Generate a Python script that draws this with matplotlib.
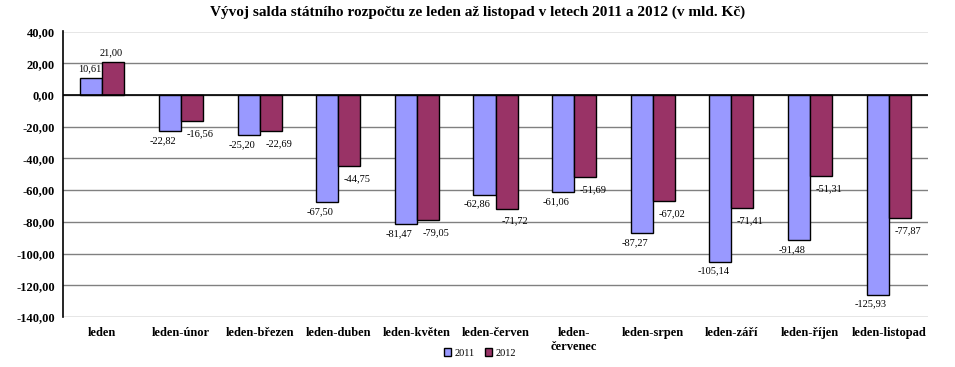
import matplotlib
matplotlib.use("Agg")
import matplotlib.pyplot as plt
from matplotlib.ticker import FuncFormatter
import numpy as np

categories = ["leden", "leden-únor", "leden-březen", "leden-duben", "leden-květen",
              "leden-červen", "leden-\nčervenec", "leden-srpen", "leden-září",
              "leden-říjen", "leden-listopad"]
values_2011 = [10.61, -22.82, -25.20, -67.50, -81.47, -62.86, -61.06, -87.27, -105.14, -91.48, -125.93]
values_2012 = [21.00, -16.56, -22.69, -44.75, -79.05, -71.72, -51.69, -67.02, -71.41, -51.31, -77.87]
series_labels = ["2011", "2012"]
title = "Vývoj salda státního rozpočtu ze leden až listopad v letech 2011 a 2012 (v mld. Kč)"

plt.rcParams['font.family'] = ['Liberation Serif', 'DejaVu Serif']

fig = plt.figure(figsize=(9.55, 3.67), dpi=100)
ax = fig.add_axes([63/955, 1 - 317/367, (928-63)/955, (317-31.5)/367])

x = np.arange(len(categories))
w = 0.28
c1, c2 = "#9999FF", "#993366"
b1 = ax.bar(x - w/2, values_2011, w, color=c1, edgecolor="black", linewidth=1, label=series_labels[0], zorder=3)
b2 = ax.bar(x + w/2, values_2012, w, color=c2, edgecolor="black", linewidth=1, label=series_labels[1], zorder=3)

def fmt(v):
    return f"{v:.2f}".replace(".", ",")

# label offsets (pixels): (dx, dy_pos, dy_neg)
offsets = {0: (-7, 5, -5), 1: (8, 4, -8)}
for si, (bars, vals) in enumerate(((b1, values_2011), (b2, values_2012))):
    dx, dyp, dyn = offsets[si]
    for b, v in zip(bars, vals):
        cx = b.get_x() + b.get_width()/2
        if v >= 0:
            ax.annotate(fmt(v), (cx, v), xytext=(-2, dyp), textcoords="offset pixels",
                        ha="center", va="bottom", fontsize=7.5)
        else:
            ax.annotate(fmt(v), (cx, v), xytext=(dx, dyn), textcoords="offset pixels",
                        ha="center", va="top", fontsize=7.5)

ax.set_xlim(-0.5, len(categories) - 0.5)
ax.set_ylim(-140, 40)
ax.set_yticks(np.arange(-140, 41, 20))
ax.yaxis.set_major_formatter(FuncFormatter(lambda v, p: fmt(v)))
ax.grid(axis="y", color="#808080", linewidth=1, zorder=0)
ax.axhline(0, color="black", linewidth=1.2, zorder=4)
for s in ("top", "right", "bottom"):
    ax.spines[s].set_visible(False)
ax.spines["left"].set_color("black")
ax.spines["left"].set_linewidth(1.2)
ax.tick_params(axis="y", length=0, pad=6, labelsize=9)
ax.tick_params(axis="x", length=0, pad=7, labelsize=9)
for lab in ax.get_yticklabels():
    lab.set_fontweight("bold")
ax.set_xticks(x)
ax.set_xticklabels(categories, fontweight="bold", va="top", linespacing=1.3)

fig.suptitle(title, fontsize=11, fontweight="bold", y=0.985)

leg = fig.legend(handles=[b1, b2], labels=series_labels, loc="center", bbox_to_anchor=(480/955, 1 - 353/367),
                 ncol=2, frameon=False, fontsize=7.5, handlelength=0.7, handleheight=0.7,
                 handletextpad=0.3, columnspacing=1.0)

fig.savefig("out.png", dpi=100)
